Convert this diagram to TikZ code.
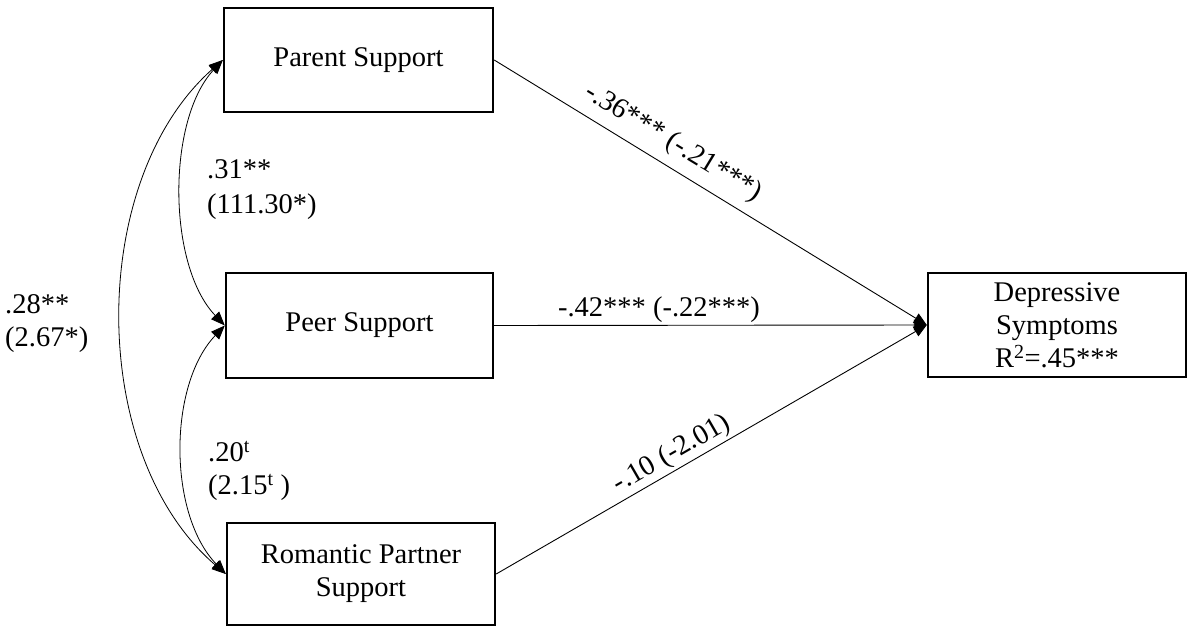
\documentclass[tikz,border=0pt]{standalone}
\usepackage{fontspec}
\setmainfont{Liberation Serif}
\usetikzlibrary{arrows.meta}
\begin{document}
\begin{tikzpicture}[x=1pt,y=-1pt,
  box/.style={draw, line width=2.4pt, align=center, inner sep=0pt, font=\fontsize{28.5}{33}\selectfont},
  lbl/.style={inner sep=0pt, align=left, font=\fontsize{28.5}{33}\selectfont},
  reg/.style={line width=0.9pt, -{Triangle[length=13pt,width=11pt]}},
  cov/.style={line width=0.8pt, {Triangle[length=14pt,width=11pt]}-{Triangle[length=14pt,width=11pt]}}
]
\useasboundingbox (0,0) rectangle (1191,628);

\node[box, minimum width=269pt, minimum height=104pt] (parent) at (358.5,60) {Parent Support};
\node[box, minimum width=267pt, minimum height=105pt] (peer) at (359.5,325.5) {Peer Support};
\node[box, minimum width=268pt, minimum height=102pt] (rom) at (361,574) {Romantic Partner\\Support};
\node[box, minimum width=258pt, minimum height=104pt] (dep) at (1057,325) {Depressive\\Symptoms\\R\textsuperscript{2}=.45***};

\draw[reg] (parent.east) -- (dep.west);
\draw[reg] (peer.east) -- (dep.west);
\draw[reg] (rom.east) -- (dep.west);

\draw[cov] (parent.west) .. controls (167,120) and (167,265) .. (peer.west);
\draw[cov] (peer.west) .. controls (168,385) and (168,514) .. (rom.west);
\draw[cov] (parent.west) .. controls (87,180) and (87,455) .. (rom.west);

\node[lbl, anchor=west] (l1) at (207,190) {.31**\\[2pt](111.30*)};
\node[lbl, anchor=west] (l2) at (5,324) {.28**\\(2.67*)};
\node[lbl, anchor=west] (l3) at (208,471) {.20\textsuperscript{t}\\(2.15\textsuperscript{t} )};
\node[lbl] (l4) at (659,310) {-.42*** (-.22***)};
\node[lbl, rotate=-31.2] (l5) at (673,143) {-.36*** (-.21***)};
\node[lbl, rotate=30] (l6) at (672,454) {-.10 (-2.01)};
\end{tikzpicture}
\end{document}
